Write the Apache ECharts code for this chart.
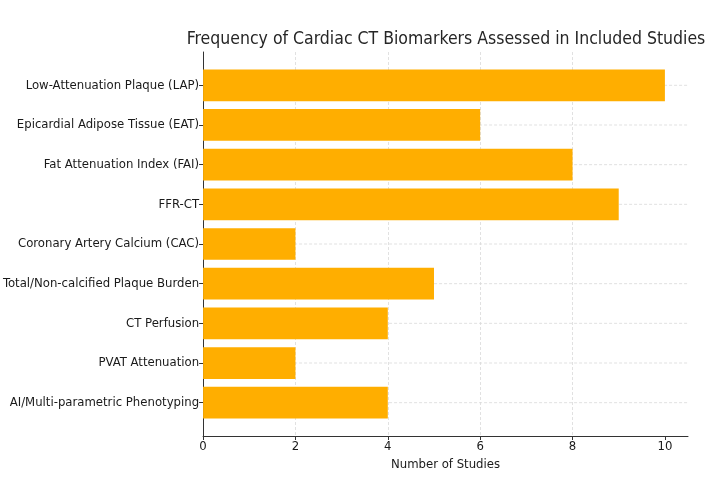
<!DOCTYPE html>
<html>
<head>
<meta charset="utf-8">
<script src="https://cdn.jsdelivr.net/npm/echarts@6/dist/echarts.min.js"></script>
<style>
html,body{margin:0;padding:0;background:#fff;}
#chart{width:706px;height:497px;}
</style>
</head>
<body>
<div id="chart"></div>
<script>
const categories = [
  'Low-Attenuation Plaque (LAP)',
  'Epicardial Adipose Tissue (EAT)',
  'Fat Attenuation Index (FAI)',
  'FFR-CT',
  'Coronary Artery Calcium (CAC)',
  'Total/Non-calcified Plaque Burden',
  'CT Perfusion',
  'PVAT Attenuation',
  'AI/Multi-parametric Phenotyping'
];
const studyCounts = [10, 6, 8, 9, 2, 5, 4, 2, 4];
const xTicks = [0, 2, 4, 6, 8, 10];

const FONT = "'DejaVu Sans Condensed', 'DejaVu Sans', sans-serif";
const chart = echarts.init(document.getElementById('chart'), null, {renderer: 'canvas'});
const catIdx = categories.map((c, i) => i);
const X_MAX = 10.5;

chart.setOption({
  animation: false,
  backgroundColor: '#ffffff',
  title: {
    text: 'Frequency of Cardiac CT Biomarkers Assessed in Included Studies',
    left: 441, top: 25, textAlign: 'center',
    textStyle: {fontFamily: FONT, fontSize: 17.5, fontWeight: 'normal', color: '#262626'}
  },
  grid: {left: 203, right: 18, top: 52, bottom: 61, containLabel: false},
  xAxis: {
    type: 'value', min: 0, max: X_MAX, interval: 2,
    name: 'Number of Studies', nameLocation: 'middle', nameGap: 22,
    nameTextStyle: {fontFamily: FONT, fontSize: 13, color: '#1a1a1a'},
    axisLine: {show: true, onZero: false, lineStyle: {color: '#333', width: 1}},
    axisTick: {show: true, length: 4, customValues: xTicks, lineStyle: {color: '#333'}},
    axisLabel: {fontFamily: FONT, fontSize: 13, color: '#1a1a1a', margin: 4,
      customValues: xTicks},
    splitLine: {show: true, showMaxLine: false, lineStyle: {color: '#d9d9d9', type: [3, 2], width: 0.8}}
  },
  yAxis: {
    type: 'value', inverse: true, min: -0.84, max: categories.length - 1 + 0.84,
    axisLine: {show: true, onZero: false, lineStyle: {color: '#333', width: 1}},
    axisTick: {show: true, length: 4, customValues: catIdx, lineStyle: {color: '#333'}},
    axisLabel: {fontFamily: FONT, fontSize: 13, color: '#1a1a1a', margin: 4,
      customValues: catIdx, formatter: v => categories[Math.round(v)]},
    splitLine: {show: false}
  },
  series: [{
    type: 'custom',
    name: 'hgrid',
    silent: true,
    z: 1,
    data: catIdx.map(i => [X_MAX, i]),
    encode: {x: 0, y: 1},
    renderItem: function (params, api) {
      const i = api.value(1);
      const a = api.coord([0, i]);
      const b = api.coord([api.value(0), i]);
      return {
        type: 'line',
        shape: {x1: a[0] + 1, y1: a[1], x2: b[0], y2: a[1]},
        style: {stroke: '#d9d9d9', fill: null, lineWidth: 0.8, lineDash: [3, 2]}
      };
    }
  }, {
    type: 'custom',
    name: 'bars',
    silent: true,
    z: 2,
    data: studyCounts.map((v, i) => [v, i]),
    encode: {x: 0, y: 1},
    renderItem: function (params, api) {
      const v = api.value(0), i = api.value(1);
      const start = api.coord([0, i]);
      const end = api.coord([v, i]);
      const h = api.size([0, 0.8])[1];
      return {
        type: 'rect',
        shape: {x: start[0], y: start[1] - h / 2, width: end[0] - start[0], height: h},
        style: {fill: '#ffae00', stroke: null}
      };
    }
  }]
});
</script>
</body>
</html>
